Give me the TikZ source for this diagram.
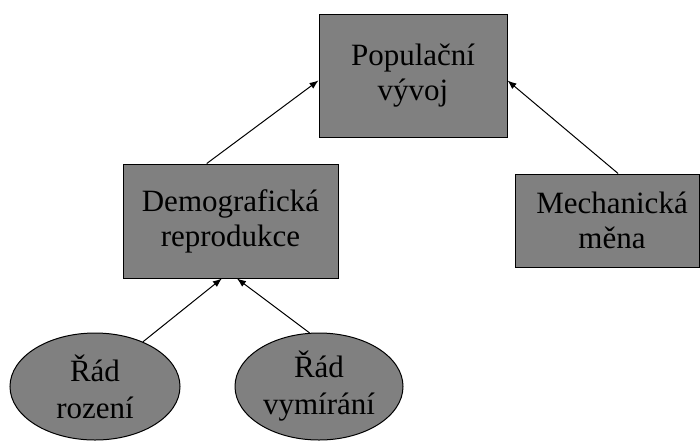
\documentclass[tikz,border=0pt]{standalone}
\usepackage{fontspec}
\setmainfont{Liberation Serif}
\usetikzlibrary{shapes.geometric,arrows.meta,calc}
\begin{document}
\begin{tikzpicture}[x=1pt,y=-1pt,
  box/.style={draw=black,line width=1pt,fill=boxgray,rectangle,inner sep=0pt,align=center,
    font=\fontsize{31}{35}\selectfont},
  oval/.style={draw=black,line width=1pt,fill=boxgray,ellipse,inner sep=0pt,align=center,
    font=\fontsize{31}{37}\selectfont},
  conn/.style={draw=black,line width=1pt,-{Latex[length=9pt,width=7pt]}}]
\definecolor{boxgray}{HTML}{808080}
\useasboundingbox (0,0) rectangle (700,442);
\node[box,minimum width=188pt,minimum height=123pt] (pop) at (413,75.5) {Populační\\vývoj};
\node[box,minimum width=215pt,minimum height=114pt] (dem) at (230.5,221) {Demografická\\reprodukce};
\node[box,minimum width=184pt,minimum height=93pt] (mech) at (607,220.5) {\hspace*{10pt}Mechanická\\\hspace*{10pt}měna};
\node[oval,minimum width=170pt,minimum height=107pt] (e1) at (95,386.5) {Řád\\rození};
\node[oval,minimum width=168pt,minimum height=107pt] (e2) at (319,386.5) {Řád\\vymírání};
\draw[conn] ($(dem.north west)!0.39!(dem.north east)$) -- ($(pop.north west)!0.54!(pop.south west)$);
\draw[conn] ($(mech.north west)!0.56!(mech.north east)$) -- ($(pop.north east)!0.54!(pop.south east)$);
\draw[conn] (e1.43) -- ($(dem.south west)!0.46!(dem.south east)$);
\draw[conn] (e2.100) -- ($(dem.south west)!0.53!(dem.south east)$);
\end{tikzpicture}
\end{document}
